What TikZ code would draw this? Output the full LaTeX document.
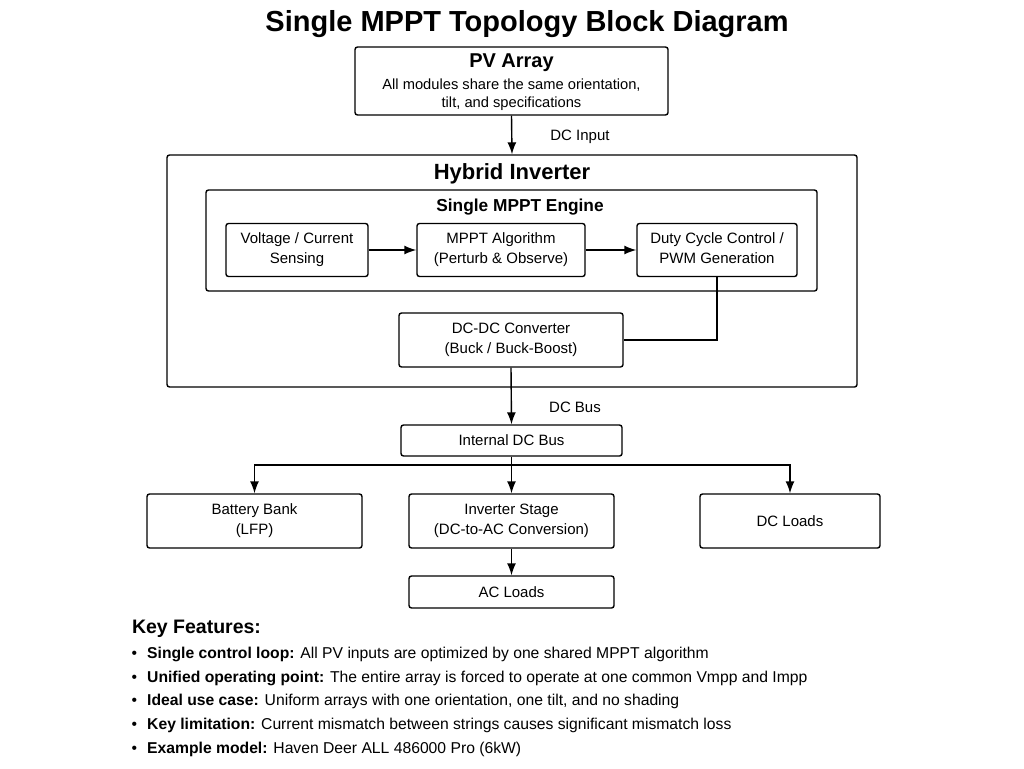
\documentclass[tikz,border=0pt]{standalone}
\usepackage{fontspec}
\setmainfont{Liberation Sans}
\usetikzlibrary{arrows.meta}

\begin{document}
\begin{tikzpicture}
  [x=1pt,y=-1pt,>={Latex[length=12pt,width=9pt]},line width=1.4pt,
   box/.style={draw,rounded corners=2.5pt,align=center,inner sep=0pt,
     font=\fontsize{15}{20}\selectfont},
   head/.style={font=\fontsize{20}{22}\bfseries},
   lbl/.style={font=\fontsize{15}{17}\selectfont},
   item/.style={anchor=west,inner sep=0pt,font=\fontsize{15.7}{18}\selectfont}]

  \useasboundingbox[fill=white] (0,0) rectangle (1024,768);

  \node[font=\fontsize{29}{32}\bfseries] (title) at (527,24) {Single MPPT Topology Block Diagram};

  % PV array
  \node[box,minimum width=313pt,minimum height=68pt] (pv) at (511.5,81) {};
  \node[head] (pvt) at (511.5,63) {PV Array};
  \node[lbl,align=center,font=\fontsize{14.7}{18}\selectfont] (pvd) at (511.5,94.5)
    {All modules share the same orientation,\\tilt, and specifications};

  % inverter and engine
  \node[box,minimum width=690pt,minimum height=232pt] (hyb) at (512,271) {};
  \node[head,font=\fontsize{22}{24}\bfseries] (hybt) at (512,174) {Hybrid Inverter};
  \node[box,minimum width=611pt,minimum height=101pt] (eng) at (511.5,240.5) {};
  \node[head,font=\fontsize{17.3}{20}\bfseries] (engt) at (520,207.5) {Single MPPT Engine};

  \node[box,minimum width=142pt,minimum height=53pt] (vc) at (297,250) {Voltage / Current\\Sensing\rule[-4pt]{0pt}{4pt}};
  \node[box,minimum width=168pt,minimum height=53pt] (algo) at (501,250) {MPPT Algorithm\\(Perturb \& Observe)\rule[-4pt]{0pt}{4pt}};
  \node[box,minimum width=160pt,minimum height=53pt] (duty) at (717,250) {Duty Cycle Control /\\PWM Generation\rule[-4pt]{0pt}{4pt}};
  \node[box,minimum width=224pt,minimum height=54pt] (dcdc) at (511,340) {DC-DC Converter\\(Buck / Buck-Boost)\rule[-4pt]{0pt}{4pt}};

  % bus and loads
  \node[box,minimum width=221pt,minimum height=31pt] (bus) at (511.5,440.5) {Internal DC Bus};
  \node[box,minimum width=215pt,minimum height=54pt] (batt) at (254.5,521) {Battery Bank\\(LFP)\rule[-4pt]{0pt}{4pt}};
  \node[box,minimum width=205pt,minimum height=54pt] (inv) at (511.5,521) {Inverter Stage\\(DC-to-AC Conversion)\rule[-4pt]{0pt}{4pt}};
  \node[box,minimum width=180pt,minimum height=54pt] (dcl) at (790,521) {DC Loads};
  \node[box,minimum width=205pt,minimum height=32pt] (ac) at (511.5,592) {AC Loads};

  \node[lbl] (lin) at (580,137) {DC Input};
  \node[lbl] (lbus) at (575,407) {DC Bus};
  \coordinate (split) at (511.5,465);

  \draw[->] (pv.south) -- (hyb.north);
  \foreach \from/\to in {vc/algo,algo/duty}
    \draw[->] (\from) -- (\to);
  \draw (duty.south) |- (dcdc.east);
  \draw[->] (dcdc.south) -- (bus.north);
  \draw (bus.south) -- (split);
  \foreach \to in {batt,inv,dcl}
    \draw[->] (split) -| (\to.north);
  \draw[->] (inv) -- (ac);

  % key features
  \node[anchor=west,font=\fontsize{19.5}{22}\bfseries] (kf) at (128,629) {Key Features:};
  \node[item] (k1) at (131,654) {\textbullet\hspace{10pt}\textbf{Single control loop:} All PV inputs are optimized by one shared MPPT algorithm};
  \node[item] (k2) at (131,678) {\textbullet\hspace{10pt}\textbf{Unified operating point:} The entire array is forced to operate at one common Vmpp and Impp};
  \node[item] (k3) at (131,701) {\textbullet\hspace{10pt}\textbf{Ideal use case:} Uniform arrays with one orientation, one tilt, and no shading};
  \node[item] (k4) at (131,725) {\textbullet\hspace{10pt}\textbf{Key limitation:} Current mismatch between strings causes significant mismatch loss};
  \node[item] (k5) at (131,749) {\textbullet\hspace{10pt}\textbf{Example model:} Haven Deer ALL 486000 Pro (6kW)};
\end{tikzpicture}
\end{document}
